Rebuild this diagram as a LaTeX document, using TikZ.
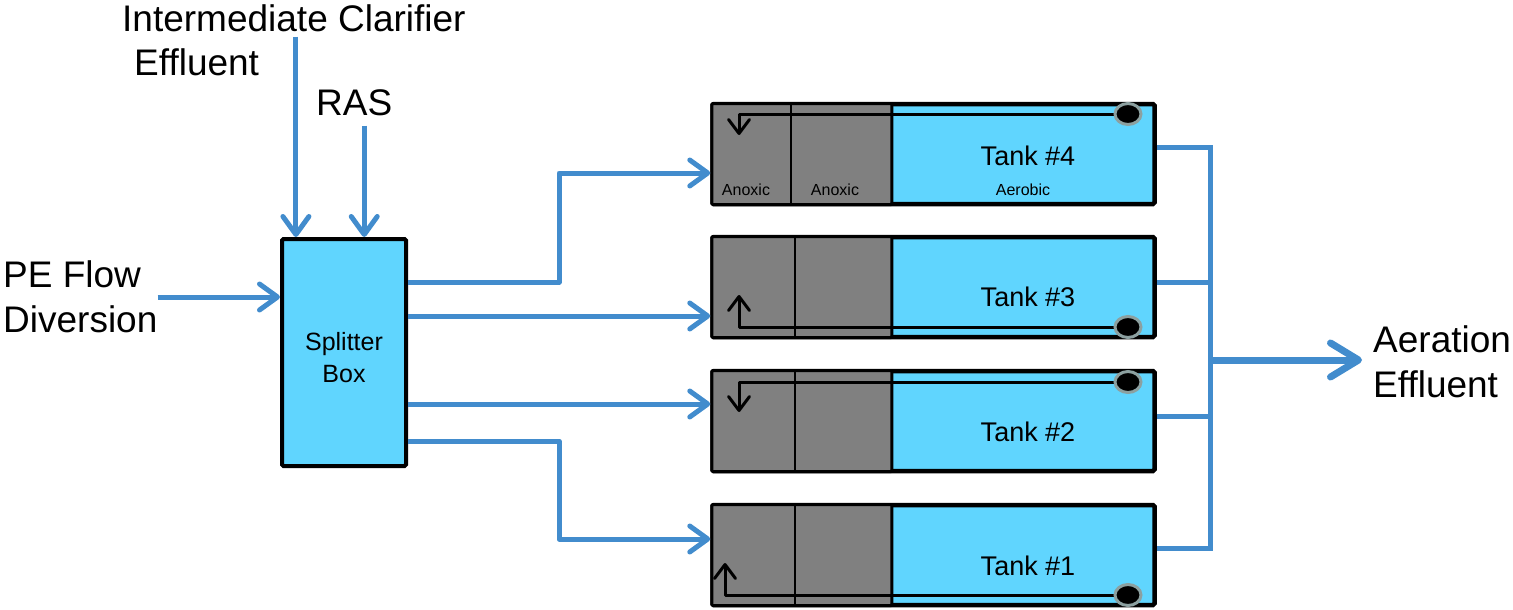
\documentclass[tikz,border=0pt]{standalone}
\usepackage{fontspec}
\setmainfont{Liberation Sans}
\usetikzlibrary{arrows.meta,shapes.geometric}
\definecolor{tankcyan}{RGB}{96,213,254}
\definecolor{flowblue}{RGB}{66,140,205}
\definecolor{zonegray}{RGB}{128,128,128}
\definecolor{pumprim}{RGB}{140,160,160}

\begin{document}
\begin{tikzpicture}[x=1pt,y=-1pt,
  every node/.style={inner sep=0pt},
  big/.style={font=\fontsize{37}{45}\selectfont},
  tanklabel/.style={font=\fontsize{27}{32}\selectfont},
  zonelabel/.style={font=\fontsize{16}{19}\selectfont},
  flow/.style={draw=flowblue, line width=5pt, line join=round,
    -{Straight Barb[length=18pt,width=26pt,line cap=round,line join=round]}},
  pipe/.style={draw=flowblue, line width=5pt},
  outflow/.style={draw=flowblue, line width=7pt,
    -{Straight Barb[length=28pt,width=34pt,line cap=round,line join=round]}},
  tank/.style={draw=black, line width=4.5pt, fill=tankcyan, rounded corners=1.5pt,
    minimum width=442pt, minimum height=100pt},
  zone/.style={draw=black, line width=3pt, fill=zonegray, rounded corners=1pt,
    minimum width=180pt, minimum height=101pt, anchor=west},
  divider/.style={draw=black, line width=2pt},
  recirc/.style={draw=black, line width=3pt, line join=round,
    -{Straight Barb[length=14pt,width=21pt,line cap=round,line join=round]}},
  pump/.style={ellipse, draw=pumprim, line width=3pt, fill=black,
    minimum width=26pt, minimum height=21pt},
]
\useasboundingbox (0,0) rectangle (1513,610);

% ---------- inflow labels ----------
\node[big, anchor=base west] (ic1) at (122,32) {Intermediate Clarifier};
\node[big, anchor=base west] (ic2) at (134,75) {Effluent};
\node[big, anchor=base west] (ras) at (316,115) {RAS};
\node[big, align=left, anchor=west] (pe) at (3,297) {PE Flow\\Diversion};

% ---------- splitter box ----------
\node[draw=black, line width=4pt, fill=tankcyan, rounded corners=1.5pt,
      minimum width=124pt, minimum height=227pt] (split) at (344,352.5) {};
\node[align=center, font=\fontsize{25}{32}\selectfont] (splitlab) at (344,358) {Splitter\\Box};

\coordinate (icout) at ([xshift=2pt,yshift=-4pt]ic1.south);
\coordinate (rasout) at ([xshift=10pt,yshift=-10pt]ras.south);
\draw[flow] (icout) -- (icout |- split.north);
\draw[flow] (rasout) -- (rasout |- split.north);
\draw[flow] (pe.east) -- (pe.east -| split.west);

% ---------- tanks ----------
\node[tank] (t4) at (933.5,154) {};
\node[zone] (g4) at (t4.west) {};
\draw[divider] (791,103) -- (791,205);
\node[tanklabel, anchor=base] (l4) at (1028,165) {Tank \#4};
\node[zonelabel, anchor=base] (z4a) at (746,195) {Anoxic};
\node[zonelabel, anchor=base] (z4b) at (835,195) {Anoxic};
\node[zonelabel, anchor=base] (z4c) at (1023,195) {Aerobic};
\coordinate (c4) at (1128,114);
\coordinate (r4) at (739,135);
\draw[recirc] (c4) -| (r4);
\node[pump] (p4) at (c4) {};

\node[tank] (t3) at (933.5,287) {};
\node[zone] (g3) at (t3.west) {};
\draw[divider] (795,237) -- (795,337);
\node[tanklabel, anchor=base] (l3) at (1028,306) {Tank \#3};
\coordinate (c3) at (1128,327);
\coordinate (r3) at (739,295);
\draw[recirc] (c3) -| (r3);
\node[pump] (p3) at (c3) {};

\node[tank] (t2) at (933.5,421) {};
\node[zone] (g2) at (t2.west) {};
\draw[divider] (795,371) -- (795,471);
\node[tanklabel, anchor=base] (l2) at (1028,441) {Tank \#2};
\coordinate (c2) at (1128,382);
\coordinate (r2) at (739,412);
\draw[recirc] (c2) -| (r2);
\node[pump] (p2) at (c2) {};

\node[tank] (t1) at (933.5,555) {};
\node[zone] (g1) at (t1.west) {};
\draw[divider] (795,505) -- (795,605);
\node[tanklabel, anchor=base] (l1) at (1028,575) {Tank \#1};
\coordinate (c1) at (1128,595);
\coordinate (r1) at (725,563);
\draw[recirc] (c1) -| (r1);
\node[pump] (p1) at (c1) {};

% ---------- splitter to tanks ----------
\draw[flow] ([yshift=70.5pt]split.east) -| (559,173) -- ([yshift=-19pt]t4.west);
\draw[flow] ([yshift=36.5pt]split.east) -- ([yshift=36.5pt]split.east -| t3.west);
\draw[flow] ([yshift=-51.5pt]split.east) -- ([yshift=-51.5pt]split.east -| t2.west);
\draw[flow] ([yshift=-88.5pt]split.east) -| (559,539) -- ([yshift=16pt]t1.west);

% ---------- effluent collection ----------
\node[big, align=left, anchor=west, inner xsep=11pt] (aer) at (1362,362) {Aeration\\Effluent};
\coordinate (b4) at (1210,147);
\coordinate (b3) at (1210,282);
\coordinate (b2) at (1210,416);
\coordinate (b1) at (1210,548);
\coordinate (bo) at (1210,360);
\draw[pipe] ([yshift=7pt]t4.east) -- (b4) -- (b1) -- ([yshift=7pt]t1.east);
\draw[pipe] ([yshift=5pt]t3.east) -- (b3);
\draw[pipe] ([yshift=5pt]t2.east) -- (b2);
\draw[outflow] (bo) -- (aer.west |- bo);
\end{tikzpicture}
\end{document}
